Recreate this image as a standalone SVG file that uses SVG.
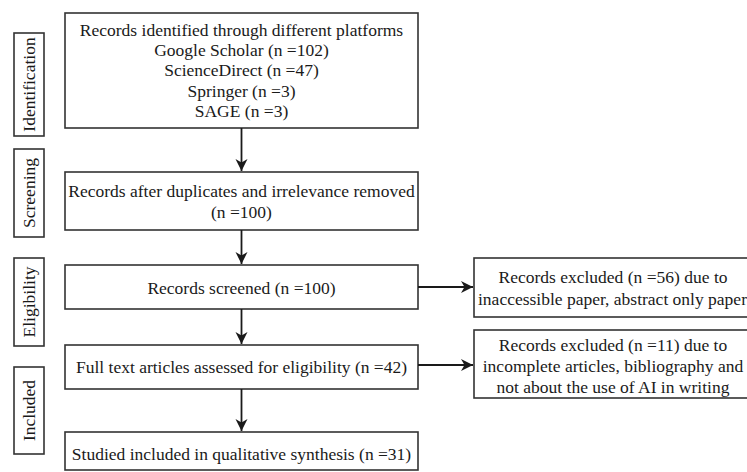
<svg xmlns="http://www.w3.org/2000/svg" width="747" height="472" viewBox="0 0 747 472">
<style>
.box{fill:#fff;stroke:#333;stroke-width:1.6}
.t{font-family:"Liberation Serif","Times New Roman",serif;font-size:17.5px;fill:#1a1a1a;text-anchor:middle}
.ln{stroke:#1a1a1a;stroke-width:1.8;fill:none}
</style>
<defs>
<marker id="ah" markerWidth="13" markerHeight="13" refX="12" refY="6" orient="auto" markerUnits="userSpaceOnUse">
<path d="M0,0 L12,6 L0,12 L3.5,6 Z" fill="#1a1a1a"/>
</marker>
</defs>
<rect width="747" height="472" fill="#fff"/>
<g id="stage-identification"><rect class="box" x="14" y="33" width="30" height="103"/><text class="t" transform="translate(35,84.5) rotate(-90)">Identification</text></g>
<g id="stage-screening"><rect class="box" x="14" y="149" width="30" height="88"/><text class="t" transform="translate(35,193) rotate(-90)">Screening</text></g>
<g id="stage-eligibility"><rect class="box" x="14" y="258" width="30" height="88"/><text class="t" transform="translate(35,302) rotate(-90)">Eligibility</text></g>
<g id="stage-included"><rect class="box" x="14" y="367" width="30" height="87"/><text class="t" transform="translate(35,410.5) rotate(-90)">Included</text></g>
<g id="n1"><rect class="box" x="65" y="13" width="353" height="115"/>
<text class="t" x="241.5" y="36">Records identified through different platforms</text>
<text class="t" x="241.5" y="56">Google Scholar (n =102)</text>
<text class="t" x="241.5" y="76">ScienceDirect (n =47)</text>
<text class="t" x="241.5" y="97">Springer (n =3)</text>
<text class="t" x="241.5" y="117">SAGE (n =3)</text></g>
<g id="n2"><rect class="box" x="65" y="172" width="353" height="58"/>
<text class="t" x="241.5" y="197">Records after duplicates and irrelevance removed</text>
<text class="t" x="241.5" y="218">(n =100)</text></g>
<g id="n3"><rect class="box" x="65" y="265" width="353" height="44"/>
<text class="t" x="241.5" y="294">Records screened (n =100)</text></g>
<g id="n4"><rect class="box" x="65" y="345" width="353" height="44"/>
<text class="t" x="241.5" y="373">Full text articles assessed for eligibility (n =42)</text></g>
<g id="n5"><rect class="box" x="65" y="432" width="353" height="38"/>
<text class="t" x="241.5" y="460">Studied included in qualitative synthesis (n =31)</text></g>
<g id="n6"><rect class="box" x="474" y="258" width="280" height="59"/>
<text class="t" x="613" y="283">Records excluded (n =56) due to</text>
<text class="t" x="478" y="305" style="text-anchor:start">inaccessible paper, abstract only paper</text></g>
<g id="n7"><rect class="box" x="474" y="330" width="280" height="68"/>
<text class="t" x="613" y="351">Records excluded (n =11) due to</text>
<text class="t" x="613" y="372">incomplete articles, bibliography and</text>
<text class="t" x="613" y="393">not about the use of AI in writing</text></g>
<g id="connectors">
<line class="ln" x1="241.5" y1="128" x2="241.5" y2="171" marker-end="url(#ah)"/>
<line class="ln" x1="241.5" y1="230" x2="241.5" y2="264" marker-end="url(#ah)"/>
<line class="ln" x1="241.5" y1="309" x2="241.5" y2="344" marker-end="url(#ah)"/>
<line class="ln" x1="241.5" y1="389" x2="241.5" y2="431" marker-end="url(#ah)"/>
<line class="ln" x1="418" y1="287" x2="473" y2="287" marker-end="url(#ah)"/>
<line class="ln" x1="418" y1="365" x2="473" y2="365" marker-end="url(#ah)"/>
</g>
</svg>
